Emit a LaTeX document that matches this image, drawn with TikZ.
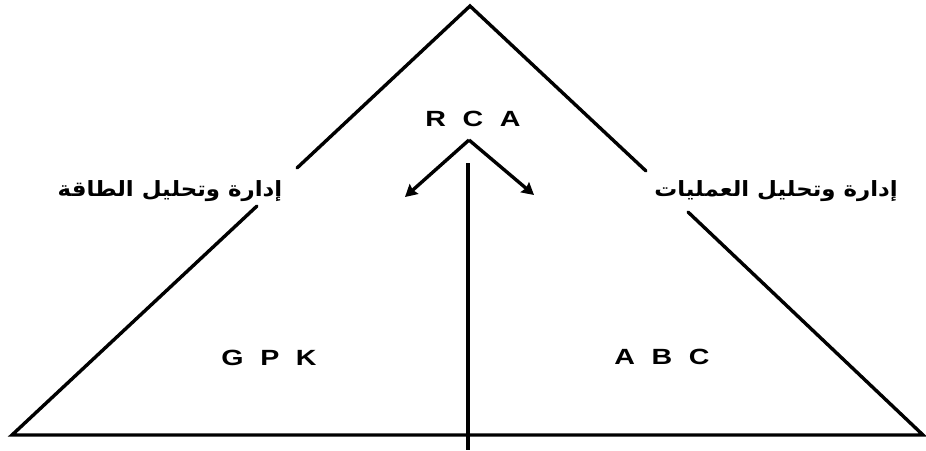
\documentclass[tikz,border=0pt]{standalone}
\usepackage{fontspec}
\setmainfont{Liberation Sans}
\newfontfamily\arabicfont[Script=Arabic]{DejaVu Sans}
\TeXXeTstate=1
\usetikzlibrary{arrows.meta}
\tikzset{
  edge/.style={line width=3.4pt, line cap=round, line join=miter},
  latin/.style={font=\fontsize{22}{24}\selectfont\bfseries, inner sep=0pt},
  arab/.style={font=\arabicfont\bfseries\fontsize{21}{24}\selectfont, inner sep=0pt},
  arrowline/.style={line width=3.4pt, -{Stealth[length=12pt,width=13pt,inset=1.5pt]}},
}
\newcommand{\gapsp}{\hspace{0.58em}}
\begin{document}
\begin{tikzpicture}[x=1pt,y=-1pt]
\useasboundingbox (0,0) rectangle (926,450);
% triangle corners
\coordinate (apex) at (470,6);
\coordinate (bl) at (12,435);
\coordinate (br) at (923,435);
\coordinate (lgapT) at (297,168);
\coordinate (lgapB) at (257,206);
\coordinate (rgapT) at (646,171);
\coordinate (rgapB) at (688,212);
\draw[edge] (lgapT) -- (apex) -- (rgapT);
\draw[edge] (lgapB) -- (bl) -- (br) -- (rgapB);
% labels
\node[latin] (rca) at (473,119) {\scalebox{1.3}[1]{R\gapsp C\gapsp A}};
\node[latin] (gpk) at (269,358) {\scalebox{1.3}[1]{G\gapsp P\gapsp K}};
\node[latin] (abc) at (662,357) {\scalebox{1.3}[1]{A\gapsp B\gapsp C}};
\node[arab] (energy) at (170,191) {\scalebox{1.09}[1]{\beginR إدارة وتحليل الطاقة\endR}};
\node[arab] (ops) at (776,191) {\scalebox{1.09}[1]{\beginR إدارة وتحليل العمليات\endR}};
% arrows
\coordinate (fork) at (469,140);
\coordinate (tipL) at (405,197);
\coordinate (tipR) at (534,195);
\draw[arrowline] (fork) -- (tipL);
\draw[arrowline] (fork) -- (tipR);
\coordinate (stemT) at (468,163);
\coordinate (stemB) at (468,450);
\draw[line width=3.6pt] (stemT) -- (stemB);
\end{tikzpicture}
\end{document}
